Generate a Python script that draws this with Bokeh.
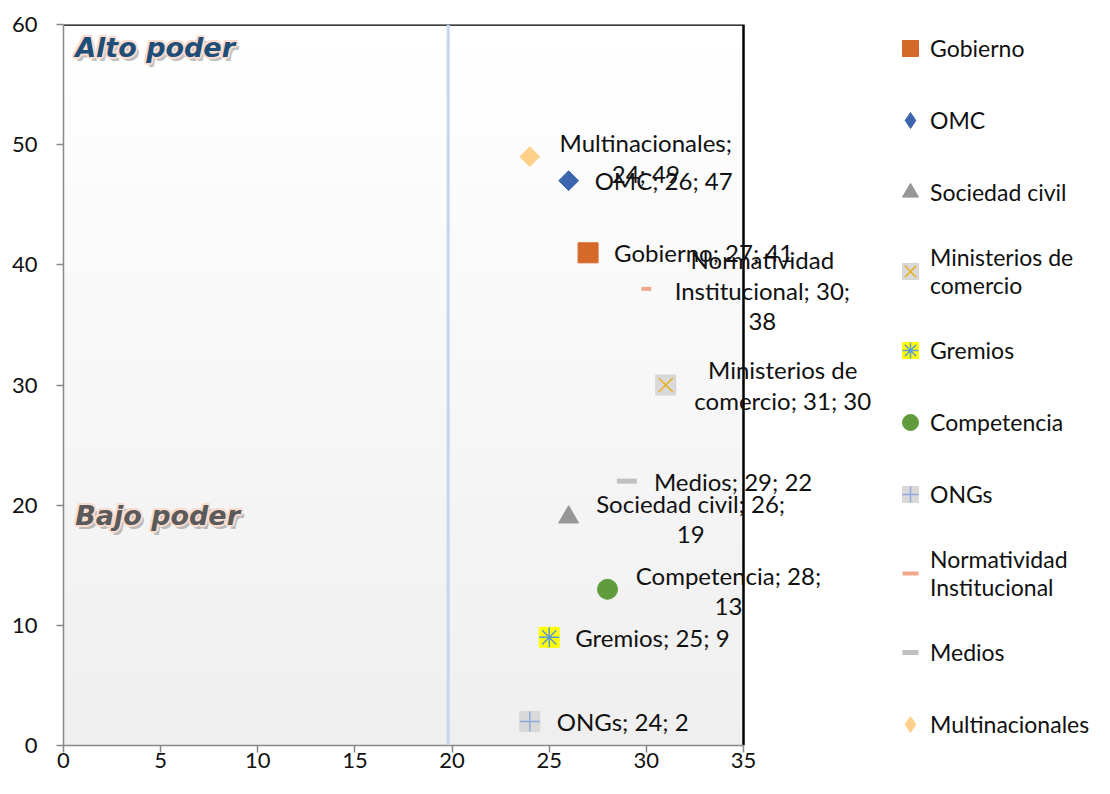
import math
import numpy as np
from bokeh.plotting import figure
from bokeh.models import ColumnDataSource, Span, Label, Legend, LegendItem, FixedTicker
from bokeh.embed import file_html
from bokeh.resources import INLINE

# ---------------- data ----------------
names = ["Gobierno", "OMC", "Sociedad civil", "Ministerios de comercio", "Gremios",
         "Competencia", "ONGs", "Normatividad Institucional", "Medios", "Multinacionales"]
x_vals = [27, 26, 26, 31, 25, 28, 24, 30, 29, 24]
y_vals = [41, 47, 19, 30, 9, 13, 2, 38, 22, 49]
legend_labels = ["Gobierno", "OMC", "Sociedad civil", "Ministerios de\ncomercio", "Gremios",
                 "Competencia", "ONGs", "Normatividad\nInstitucional", "Medios", "Multinacionales"]
data_labels = ["Gobierno; 27; 41", "OMC; 26; 47", "Sociedad civil; 26;\n19",
               "Ministerios de\ncomercio; 31; 30", "Gremios; 25; 9", "Competencia; 28;\n13",
               "ONGs; 24; 2", "Normatividad\nInstitucional; 30;\n38", "Medios; 29; 22",
               "Multinacionales;\n24; 49"]
x_ticks = [0, 5, 10, 15, 20, 25, 30, 35]
y_ticks = [0, 10, 20, 30, 40, 50, 60]
x_max = 35
y_max = 60
divider_x = 19.8
zone_labels = ["Alto poder", "Bajo poder"]

# ---------------- styles / layout ----------------
label_dx = [26, 26, 122, 117, 26, 121, 27, 116, 27, 116]
label_dy = [0, 0, -2, 0, 0, -2, 0, -2, 0, -1]
label_align = ["left", "left", "center", "center", "left", "center", "left", "center", "left", "center"]
line_step = 31

PLOT_W = 680          # pixel width of the 0..35 plotting area
FRAME_W = 1031        # frame also hosts the labels that overflow and the legend
FRAME_H = 721

D = math.pi / 4
styles = [
    [dict(marker="square", size=20, fill_color="#D5692A", line_color="#D5692A")],
    [dict(marker="square", size=14, angle=D, fill_color="#3D64AE", line_color="#3D64AE")],
    [dict(marker="triangle", size=20, fill_color="#979797", line_color="#979797")],
    [dict(marker="square", size=20, fill_color="#D9D9D9", line_color="#D4D4D4"),
     dict(marker="x", size=20, fill_color=None, line_color="#E8AE1C", line_width=1.5)],
    [dict(marker="square", size=20, fill_color="#FFFF00", line_color="#FFFF00"),
     dict(marker="asterisk", size=20, fill_color=None, line_color="#5B9BD5", line_width=1.5)],
    [dict(marker="circle", size=20, fill_color="#5F9C3B", line_color="#5F9C3B")],
    [dict(marker="square", size=20, fill_color="#D9D9D9", line_color="#D9D9D9"),
     dict(marker="cross", size=20, fill_color=None, line_color="#8EA9DB", line_width=1.5)],
    [dict(marker="dash", size=10, line_color="#F4A88A", line_width=4)],
    [dict(marker="dash", size=20, line_color="#C0C0C0", line_width=5)],
    [dict(marker="square", size=14, angle=D, fill_color="#FFD08A", line_color="#FFD08A")],
]
# legend-only swatches (rotated squares are not rotated inside legends)
legend_override = {1: dict(marker="diamond", size=24, fill_color="#3D64AE", line_color="#3D64AE"),
                   9: dict(marker="diamond", size=24, fill_color="#FFD08A", line_color="#FFD08A")}

x_end = x_max * FRAME_W / PLOT_W
p = figure(frame_width=FRAME_W, frame_height=FRAME_H, x_range=(0, x_end), y_range=(0, y_max),
           output_backend="svg", toolbar_location=None,
           min_border_left=63, min_border_top=24, min_border_right=0, min_border_bottom=33)
p.background_fill_color = "white"
p.border_fill_color = "white"
p.xgrid.visible = False
p.ygrid.visible = False
p.outline_line_color = None

# gradient background of the plot area
n = 256
img = np.empty((n, 1), dtype=np.uint32)
view = img.view(dtype=np.uint8).reshape((n, 1, 4))
for i in range(n):
    t = i / (n - 1)
    c = int(round(0xEF + (0xFF - 0xEF) * t))
    view[i, 0, :] = [c, c, c, 255]
p.image_rgba(image=[img], x=0, y=0, dw=x_max, dh=y_max, level="image")

# plot-area border (top and right, black)
p.line(x=[0, x_max, x_max], y=[y_max, y_max, 0], line_color="black", line_width=2.5)

p.add_layout(Span(location=divider_x, dimension="height", line_color="#C6D4F0", line_width=3))

# axes
for ax in (p.xaxis[0], p.yaxis[0]):
    ax.axis_line_color = "#898989"
    ax.axis_line_width = 1.5
    ax.major_tick_line_color = "#898989"
    ax.major_tick_line_width = 1.5
    ax.major_tick_in = 0
    ax.major_tick_out = 7
    ax.minor_tick_line_color = None
    ax.major_label_text_font = "Lato"
    ax.major_label_text_font_size = "22px"
    ax.major_label_text_color = "#111111"
p.xaxis.ticker = FixedTicker(ticks=x_ticks)
p.yaxis.ticker = FixedTicker(ticks=y_ticks)
p.xaxis.bounds = (0, x_max)
p.xaxis.major_label_standoff = 0
p.yaxis.major_label_standoff = 19

# zone labels: soft shadow, pinkish glow, then the coloured text
glow_offsets = [(-2, 0), (2, 0), (0, -2), (0, 2), (-1.5, -1.5), (1.5, 1.5), (-1.5, 1.5), (1.5, -1.5)]
zone_font = dict(text_font="DejaVu Sans", text_font_style="bold italic", text_font_size="27px",
                 text_baseline="middle")
for txt, ty, col in [(zone_labels[0], 58.1, "#1F4E79"), (zone_labels[1], 19.15, "#5A5A5A")]:
    p.add_layout(Label(x=0.6, y=ty, text=txt, x_offset=3, y_offset=-4,
                       text_color="#8C8C8C", text_alpha=0.55, **zone_font))
    for ox, oy in glow_offsets:
        p.add_layout(Label(x=0.6, y=ty, text=txt, x_offset=ox, y_offset=oy,
                           text_color="#F9DDD0", **zone_font))
    p.add_layout(Label(x=0.6, y=ty, text=txt, text_color=col, **zone_font))

# series
items = []
for i, nm in enumerate(names):
    src = ColumnDataSource(dict(x=[x_vals[i]], y=[y_vals[i]]))
    rs = []
    for st in styles[i]:
        r = p.scatter(x="x", y="y", source=src, **st)
        rs.append(r)
    if i in legend_override:
        r = p.scatter(x="x", y="y", source=src, **legend_override[i])
        r.visible = False
        rs = [r]
    items.append(LegendItem(label=legend_labels[i], renderers=rs))

# data labels (one Label per text line so that wrapped lines are centred)
for i, txt in enumerate(data_labels):
    lines = txt.split("\n")
    k = len(lines)
    for j, line in enumerate(lines):
        p.add_layout(Label(x=x_vals[i], y=y_vals[i], text=line,
                           x_offset=label_dx[i],
                           y_offset=((k - 1) / 2 - j) * line_step + label_dy[i],
                           text_align=label_align[i], text_baseline="middle",
                           text_font="Lato", text_font_size="24px", text_color="#111111"))

legend = Legend(items=items, location=(827, 0), border_line_color=None,
                background_fill_alpha=0, padding=0, margin=0, spacing=30,
                glyph_width=40, glyph_height=42, label_height=42, label_standoff=0,
                label_text_font="Lato", label_text_font_size="23px",
                label_text_color="#111111")
p.add_layout(legend, "center")

open("out.html", "w").write(file_html(p, INLINE))
